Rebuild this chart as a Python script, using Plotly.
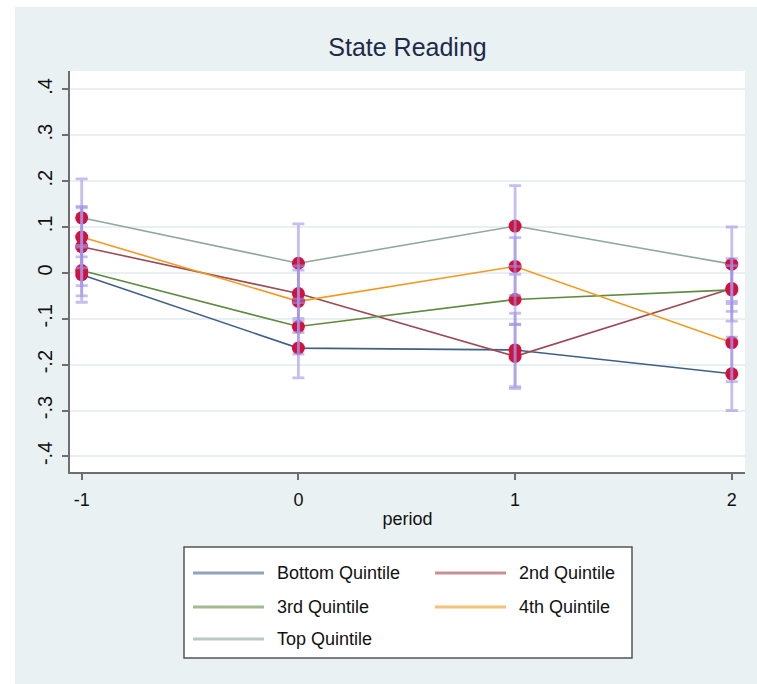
import plotly.graph_objects as go

# ---------------- data ----------------
periods = [-1, 0, 1, 2]
series_names = ["Bottom Quintile", "2nd Quintile", "3rd Quintile", "4th Quintile", "Top Quintile"]
bottom_q = [-0.004, -0.164, -0.168, -0.220]
second_q = [0.057, -0.045, -0.182, -0.034]
third_q = [0.005, -0.117, -0.058, -0.037]
fourth_q = [0.078, -0.062, 0.014, -0.152]
top_q = [0.120, 0.021, 0.102, 0.019]
bottom_ci = [0.060, 0.065, 0.080, 0.080]
second_ci = [0.085, 0.060, 0.070, 0.050]
third_ci = [0.055, 0.060, 0.055, 0.068]
fourth_ci = [0.067, 0.068, 0.063, 0.085]
top_ci = [0.085, 0.086, 0.088, 0.081]
y_tickvals = [-0.4, -0.3, -0.2, -0.1, 0, 0.1, 0.2, 0.3, 0.4]
y_ticktext = ["-.4", "-.3", "-.2", "-.1", "0", ".1", ".2", ".3", ".4"]
x_tickvals = [-1, 0, 1, 2]
x_ticktext = ["-1", "0", "1", "2"]

values = [bottom_q, second_q, third_q, fourth_q, top_q]
cis = [bottom_ci, second_ci, third_ci, fourth_ci, top_ci]
line_colors = ["#3F5F86", "#9C4A55", "#5F8A40", "#F29A1F", "#8FA99E"]
legend_colors = ["#8FA3BC", "#C98F96", "#A3BA90", "#F5C07A", "#B9C9C1"]

W, H = 757, 684
L, R, T, B = 70, 745, 71, 472


def px(x):
    return (x - L) / (R - L)


def py(y):
    return (B - y) / (B - T)


fig = go.Figure()

# lines
for name, vals, col in zip(series_names, values, line_colors):
    fig.add_trace(go.Scatter(x=periods, y=vals, mode="lines", name=name,
                             line=dict(color=col, width=1.6), showlegend=False,
                             hoverinfo="skip"))
# markers
for name, vals in zip(series_names, values):
    fig.add_trace(go.Scatter(x=periods, y=vals, mode="markers", name=name,
                             marker=dict(color="#D2123E", size=13, line=dict(width=0)),
                             showlegend=False))
# error bars on top
for name, vals, ci in zip(series_names, values, cis):
    fig.add_trace(go.Scatter(x=periods, y=vals, mode="markers", name=name + " CI",
                             marker=dict(size=1, color="rgba(0,0,0,0)"),
                             error_y=dict(type="data", array=ci, visible=True,
                                          color="rgba(160,145,230,0.6)",
                                          thickness=2.8, width=6),
                             showlegend=False, hoverinfo="skip"))

shapes = []
# outer background
shapes.append(dict(type="rect", xref="paper", yref="paper",
                   x0=px(15), x1=px(W + 5), y0=py(H + 5), y1=py(7),
                   fillcolor="#EAF1F3", line=dict(width=0), layer="below"))
# plot area
shapes.append(dict(type="rect", xref="paper", yref="paper",
                   x0=0, x1=1, y0=0, y1=1,
                   fillcolor="white", line=dict(width=0), layer="below"))
# legend box
shapes.append(dict(type="rect", xref="paper", yref="paper",
                   x0=px(184), x1=px(632), y0=py(658), y1=py(547),
                   fillcolor="white", line=dict(color="#555555", width=1.5), layer="below"))

annotations = []
leg_pos = [(193, 573), (435, 573), (193, 607), (435, 607), (193, 639)]
for name, col, (lx, ly) in zip(series_names, legend_colors, leg_pos):
    shapes.append(dict(type="line", xref="paper", yref="paper",
                       x0=px(lx), x1=px(lx + 71), y0=py(ly), y1=py(ly),
                       line=dict(color=col, width=3), layer="above"))
    annotations.append(dict(text=name, xref="paper", yref="paper",
                            x=px(lx + 82), y=py(ly), xanchor="left", yanchor="middle",
                            showarrow=False,
                            font=dict(family="Liberation Sans", size=18, color="#111111")))

fig.update_layout(
    width=W, height=H,
    margin=dict(l=L, r=W - R, t=T, b=H - B),
    paper_bgcolor="white",
    plot_bgcolor="white",
    showlegend=False,
    title=dict(text="State Reading", x=0.5, xref="paper", xanchor="center",
               y=1 - 47 / H, yanchor="middle",
               font=dict(family="Liberation Sans", size=25, color="#1E2A4A")),
    shapes=shapes,
    annotations=annotations,
    font=dict(family="Liberation Sans", color="#111111"),
)

fig.update_xaxes(range=[-1.054, 2.061], tickvals=x_tickvals, ticktext=x_ticktext,
                 showgrid=False, zeroline=False, showline=True, linecolor="#6E6E6E",
                 linewidth=2, ticks="outside", ticklen=6, tickwidth=2, tickcolor="#6E6E6E",
                 ticklabelstandoff=4,
                 tickfont=dict(size=18, color="#111111"),
                 title=dict(text="period", standoff=4, font=dict(size=18, color="#111111")))
fig.update_yaxes(range=[-0.434, 0.44], tickvals=y_tickvals, ticktext=y_ticktext,
                 tickangle=-90, showgrid=True, gridcolor="#E8F0F1", gridwidth=1.5,
                 zeroline=False, showline=True, linecolor="#6E6E6E", linewidth=2,
                 ticks="outside", ticklen=6, tickwidth=2, tickcolor="#6E6E6E",
                 ticklabelstandoff=2,
                 tickfont=dict(size=20, color="#111111"))

fig.write_html("out.html")
